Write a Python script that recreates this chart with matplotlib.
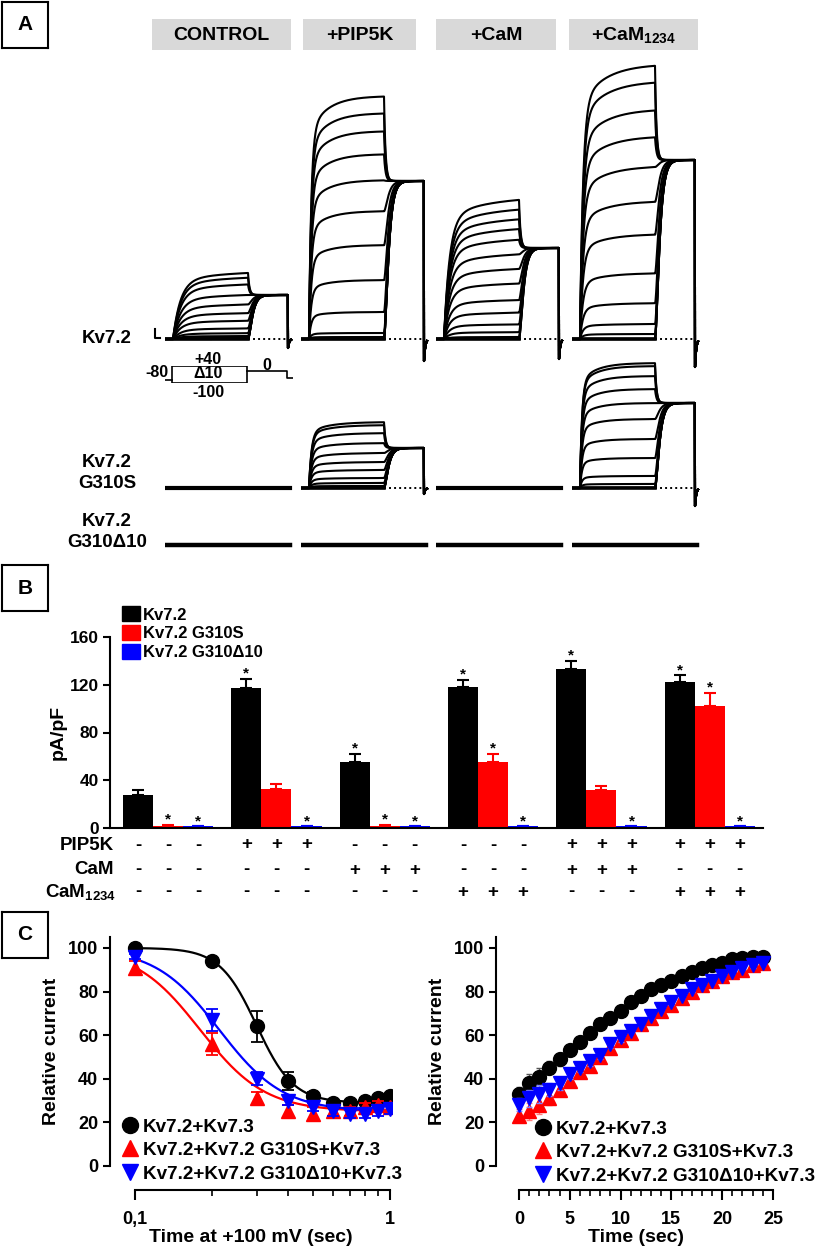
import numpy as np
import matplotlib
matplotlib.use('Agg')
import matplotlib.pyplot as plt
import matplotlib.transforms as mtransforms
from matplotlib.patches import Rectangle, Patch
from matplotlib.lines import Line2D
import matplotlib.ticker as mticker

plt.rcParams['font.family'] = ['Liberation Sans', 'DejaVu Sans']
plt.rcParams['font.weight'] = 'bold'
plt.rcParams['axes.labelweight'] = 'bold'
plt.rcParams['mathtext.fontset'] = 'custom'
plt.rcParams['mathtext.rm'] = 'Liberation Sans:bold'
plt.rcParams['mathtext.it'] = 'Liberation Sans:bold'
plt.rcParams['mathtext.bf'] = 'Liberation Sans:bold'
plt.rcParams['axes.linewidth'] = 1.5

# ---------------- data ----------------
# panel A: steady current at each voltage step (-100..+40 mV, 10 mV steps)
steps_mV = list(range(-100, 50, 10))
cond_labels = ['CONTROL', '+PIP5K', '+CaM', '+CaM$_{1234}$']
amp_kv72_control = [0, 0, 0, 0, 1, 3, 6, 11, 19, 27, 36, 46, 57, 64, 69]
amp_kv72_pip5k = [0, 0, 0, 1, 2, 6, 27, 59, 94, 128, 159, 185, 208, 226, 243]
amp_kv72_cam = [0, 0, 2, 7, 15, 27, 40, 57, 72, 87, 102, 113, 123, 133, 143]
amp_kv72_cam1234 = [0, 0, 0, 0, 5, 15, 36, 66, 105, 138, 173, 203, 230, 258, 275]
amp_g310s_pip5k = [0, 0, 0, 0, 0, 2, 5, 10, 18, 26, 35, 45, 55, 63, 66]
amp_g310s_cam1234 = [0, 0, 0, 0, 0, 4, 12, 30, 49, 69, 85, 99, 112, 122, 125]
tail_kv72 = [44, 158, 91, 179]
tail_g310s = [0, 40, 0, 85]
tau_kv72 = [150, 45, 110, 60]
tau_g310s = [0, 50, 0, 40]
dip_kv72 = [9, 22, 20, 28]
dip_g310s = [0, 6, 0, 18]

# panel B: current density (pA/pF)
groups_pip5k = ['-', '+', '-', '-', '+', '+']
groups_cam = ['-', '-', '+', '-', '+', '-']
groups_cam1234 = ['-', '-', '-', '+', '-', '+']
kv72_mean = [28, 117, 55, 118, 133, 122]
kv72_err = [4, 8, 7, 6, 7, 6]
kv72_sig = [False, True, True, True, True, True]
g310s_mean = [2, 33, 2, 55, 32, 102]
g310s_err = [0.5, 4, 0.5, 7, 3, 11]
g310s_sig = [True, False, True, True, False, True]
g310d10_mean = [1.5, 1.5, 1.5, 1.5, 1.5, 1.5]
g310d10_err = [0, 0, 0, 0, 0, 0]
g310d10_sig = [True, True, True, True, True, True]

# panel C left: relative current vs time at +100 mV
t_pulse = [0.1, 0.2, 0.3, 0.4, 0.5, 0.6, 0.7, 0.8, 0.9, 1.0]
wt_pulse = [100, 94, 64, 39, 32, 29, 29, 30, 31, 32]
wt_pulse_err = [0.5, 1, 7, 4, 2, 1, 1, 1, 1, 1]
g310s_pulse = [91, 56, 31, 25, 24, 25, 25, 27, 28, 27]
g310s_pulse_err = [3, 5, 3, 3, 3, 2, 2, 2, 2, 2]
d10_pulse = [96, 67, 40, 30, 27, 25, 24, 24, 25, 26]
d10_pulse_err = [1, 5, 3, 2, 2, 2, 2, 2, 2, 2]
# fitted curves (bottom, top, t50, slope)
fit_wt = [29, 100, 0.30, 6.0]
fit_g310s = [25, 100, 0.18, 3.4]
fit_d10 = [25, 100, 0.214, 3.46]

# panel C right: recovery time course
t_rec = list(range(25))
wt_rec = [33, 38, 41, 45, 49, 53, 57, 61, 65, 68, 71, 75, 78, 81, 83, 85, 87,
          89, 91, 92, 93, 95, 95.5, 96, 96]
g310s_rec = [23, 25, 28, 31, 35, 39, 43, 46, 50, 54, 58, 61, 65, 68, 71, 74, 77,
             80, 83, 85, 87, 89, 90, 92, 93]
d10_rec = [28, 31, 33, 35, 38, 42, 45, 48, 51, 56, 59, 62, 65, 69, 72, 75, 78,
           81, 83, 85, 87, 89, 91, 92, 93]
rec_err = [3, 4, 4, 3, 3, 2, 2, 2, 2, 2, 2, 1, 1, 1, 1, 1, 1, 1, 1, 1, 1, 1, 1, 1, 1]

legend_c = ['Kv7.2+Kv7.3', 'Kv7.2+Kv7.2 G310S+Kv7.3', 'Kv7.2+Kv7.2 G310\u039410+Kv7.3']

W, H = 823, 1249
fig = plt.figure(figsize=(W / 100, H / 100), dpi=100)


def box(x0, y0, x1, y1):
    return [x0 / W, 1 - y1 / H, (x1 - x0) / W, (y1 - y0) / H]


def fx(x):
    return x / W


def fy(y):
    return 1 - y / H


def panel_letter(x0, y0, letter):
    a = fig.add_axes(box(x0, y0, x0 + 46, y0 + 46))
    a.set_xticks([])
    a.set_yticks([])
    for s in a.spines.values():
        s.set_linewidth(1.5)
    a.text(0.5, 0.5, letter, ha='center', va='center', fontsize=15)


# ---------------- panel A ----------------
panel_letter(2, 2, 'A')
head_x = [(152, 291), (303, 416), (436, 556), (569, 698)]
for (x0, x1), lab in zip(head_x, cond_labels):
    fig.add_artist(Rectangle((fx(x0), fy(50)), fx(x1 - x0), (50 - 19) / H,
                             transform=fig.transFigure, color='#d9d9d9', lw=0))
    fig.text(fx((x0 + x1) / 2), fy(35), lab, ha='center', va='center', fontsize=14)


def sweep(t, amp, tail, tau, dip):
    cur = np.zeros_like(t)
    on = (t >= 0) & (t < 1500)
    ts = t[on]
    cur[on] = amp * (0.85 * (1 - np.exp(-ts / tau)) + 0.15 * (1 - np.exp(-ts / (8 * tau))))
    i_end = amp * (0.85 * (1 - np.exp(-1500 / tau)) + 0.15 * (1 - np.exp(-1500 / (8 * tau))))
    tl = (t >= 1500) & (t < 2300)
    dt = t[tl] - 1500
    if i_end > tail:
        cur[tl] = tail + (i_end - tail) * np.exp(-dt / 30)
    else:
        cur[tl] = i_end + (tail - i_end) * (1 - np.exp(-dt / 70)) ** 2
    off = t >= 2300
    cur[off] = -dip * np.exp(-(t[off] - 2300) / 25)
    return cur


t = np.arange(-160, 2362, 2.0)
step_px = [173, 309, 444, 580]
row_base = [339, 488, 545]
amps_kv72 = [amp_kv72_control, amp_kv72_pip5k, amp_kv72_cam, amp_kv72_cam1234]
amps_g310s = [None, amp_g310s_pip5k, None, amp_g310s_cam1234]


def trace_axes(c, r):
    s = step_px[c]
    b = row_base[r]
    a = fig.add_axes(box(s - 8, b - 290, s + 122.5, b + 40))
    a.set_xlim(-160, 2450)
    a.set_ylim(-40, 290)
    a.axis('off')
    return a


for c in range(4):
    # Kv7.2
    a = trace_axes(c, 0)
    a.plot([-160, 1500], [0, 0], color='k', lw=2.6)
    for amp in amps_kv72[c]:
        a.plot(t, sweep(t, amp, tail_kv72[c], tau_kv72[c], dip_kv72[c]), color='k', lw=1.5)
    a.plot([1500, 2300], [0, 0], color='k', lw=1.4, ls=(0, (1, 1.6)))
    # G310S
    a = trace_axes(c, 1)
    if amps_g310s[c] is None:
        a.plot([-160, 2340], [0, 0], color='k', lw=3)
    else:
        a.plot([-160, 1500], [0, 0], color='k', lw=2.6)
        for amp in amps_g310s[c]:
            a.plot(t, sweep(t, amp, tail_g310s[c], tau_g310s[c], dip_g310s[c]), color='k', lw=1.5)
        a.plot([1500, 2300], [0, 0], color='k', lw=1.4, ls=(0, (1, 1.6)))
    # G310delta10
    a = trace_axes(c, 2)
    a.plot([-160, 2340], [0, 0], color='k', lw=3.2)

fig.text(fx(132), fy(339), 'Kv7.2', ha='right', va='center', fontsize=13.5)
fig.text(fx(107), fy(473), 'Kv7.2\nG310S', ha='center', va='center', fontsize=13.5,
         linespacing=1.25)
fig.text(fx(107), fy(532), 'Kv7.2\nG310\u039410', ha='center', va='center', fontsize=13.5,
         linespacing=1.25)
# scale bar
fig.add_artist(Line2D([fx(155), fx(155), fx(160)], [fy(329), fy(338), fy(338)],
                      transform=fig.transFigure, color='k', lw=1.5))

# voltage protocol
ap = fig.add_axes(box(165, 366, 293, 383))
ap.axis('off')
ap.set_xlim(-150, 2420)
ap.set_ylim(-101, 41)
ap.plot([-150, 0], [-80, -80], color='k', lw=1.2)
ap.add_patch(Rectangle((0, -100), 1500, 140, fill=False, lw=1.2, ec='k'))
ap.plot([1500, 2300, 2300, 2420], [0, 0, -60, -60], color='k', lw=1.2)
fig.text(fx(168), fy(372), '-80', ha='right', va='center', fontsize=11.5)
fig.text(fx(208), fy(359), '+40', ha='center', va='center', fontsize=11.5)
fig.text(fx(208), fy(374), '\u039410', ha='center', va='center', fontsize=11.5)
fig.text(fx(208), fy(393), '-100', ha='center', va='center', fontsize=11.5)
fig.text(fx(267), fy(366), '0', ha='center', va='center', fontsize=11.5)

# ---------------- panel B ----------------
panel_letter(2, 565, 'B')
ax_b = fig.add_axes(box(110, 637, 763, 828))
xg = np.arange(6) * 3.6
series = [(kv72_mean, kv72_err, kv72_sig, 'black', 'Kv7.2'),
          (g310s_mean, g310s_err, g310s_sig, '#ff0000', 'Kv7.2 G310S'),
          (g310d10_mean, g310d10_err, g310d10_sig, '#0000ff', 'Kv7.2 G310\u039410')]
handles = []
for k, (m, e, sig, col, lab) in enumerate(series):
    xs = xg + k
    ax_b.bar(xs, m, width=1.0, color=col, lw=0)
    ax_b.errorbar(xs, m, yerr=[np.zeros(6), e], fmt='none', ecolor=col,
                  elinewidth=1.5, capsize=4, capthick=1.5)
    for x, v, er, s in zip(xs, m, e, sig):
        if s:
            ax_b.text(x, v + er + 1, '*', ha='center', va='baseline', fontsize=11)
    handles.append(Patch(color=col, label=lab))
ax_b.set_xlim(-0.93, 20.77)
ax_b.set_ylim(0, 160)
ax_b.set_yticks([0, 40, 80, 120, 160])
ax_b.set_xticks([])
ax_b.spines['top'].set_visible(False)
ax_b.spines['right'].set_visible(False)
ax_b.tick_params(axis='y', direction='out', length=5, width=1.5, labelsize=12.5, pad=3)
ax_b.set_ylabel('pA/pF', fontsize=14, labelpad=2)
leg = ax_b.legend(handles=handles, loc='upper left', bbox_to_anchor=(fx(114), fy(598)),
                  bbox_transform=fig.transFigure, frameon=False, borderpad=0,
                  handlelength=1.05, handleheight=1.0, handletextpad=0.2,
                  labelspacing=0.15, prop={'weight': 'bold', 'size': 12})

tr = mtransforms.blended_transform_factory(ax_b.transData, fig.transFigure)
for row_y, signs in zip([845, 870, 892], [groups_pip5k, groups_cam, groups_cam1234]):
    for g in range(6):
        for k in range(3):
            ax_b.text(xg[g] + k, fy(row_y), signs[g], transform=tr, ha='center',
                      va='center', fontsize=13.5, clip_on=False)
fig.text(fx(114), fy(845), 'PIP5K', ha='right', va='center', fontsize=13.5)
fig.text(fx(114), fy(870), 'CaM', ha='right', va='center', fontsize=13.5)
fig.text(fx(116), fy(892), 'CaM$_{1234}$', ha='right', va='center', fontsize=13.5)

# ---------------- panel C ----------------
panel_letter(2, 912, 'C')


def style_c(a):
    a.spines['top'].set_visible(False)
    a.spines['right'].set_visible(False)
    a.spines['bottom'].set_position(('outward', 17.3))
    a.set_ylim(0, 105)
    a.set_yticks([0, 20, 40, 60, 80, 100])
    a.tick_params(axis='y', direction='out', length=5, width=1.5, labelsize=13)
    a.tick_params(axis='x', which='major', direction='out', length=7, width=1.5,
                  labelsize=13, pad=8)
    a.tick_params(axis='x', which='minor', direction='out', length=4, width=1.2)
    a.set_ylabel('Relative current', fontsize=14, labelpad=6)


def hill(x, p):
    return p[0] + (p[1] - p[0]) / (1 + (x / p[2]) ** p[3])


ax_l = fig.add_axes(box(110, 937, 392, 1166))
ax_l.set_xscale('log')
ax_l.set_xlim(0.0798, 1.02)
style_c(ax_l)
ax_l.spines['bottom'].set_bounds(0.1, 1)
xf = np.logspace(-1, 0, 200)
for fitp, col in zip([fit_wt, fit_g310s, fit_d10], ['k', '#ff0000', '#0000ff']):
    ax_l.plot(xf, hill(xf, fitp), color=col, lw=1.6)
pts = [(wt_pulse, wt_pulse_err, 'o', 'k'),
       (g310s_pulse, g310s_pulse_err, '^', '#ff0000'),
       (d10_pulse, d10_pulse_err, 'v', '#0000ff')]
lh = []
for (y, e, mk, col), lab in zip(pts, legend_c):
    ax_l.errorbar(t_pulse, y, yerr=e, fmt='none', ecolor=col, elinewidth=1.3,
                  capsize=4, capthick=1.3)
    h, = ax_l.plot(t_pulse, y, mk, color=col, ms=10, ls='none', label=lab)
    lh.append(h)
ax_l.set_xticks([0.1, 1])
ax_l.set_xticklabels(['0,1', '1'])
ax_l.xaxis.set_minor_locator(mticker.FixedLocator([0.2, 0.3, 0.4, 0.5, 0.6, 0.7, 0.8, 0.9]))
ax_l.xaxis.set_minor_formatter(mticker.NullFormatter())
ax_l.set_xlabel('Time at +100 mV (sec)', fontsize=14, labelpad=1)
ax_l.legend(handles=lh, loc='lower left', bbox_to_anchor=(fx(111), fy(1192)),
            bbox_transform=fig.transFigure, frameon=False, borderpad=0,
            handlelength=1.0, handletextpad=0.2, labelspacing=0.33,
            markerscale=1.15, fontsize=13.6)

ax_r = fig.add_axes(box(496, 937, 775, 1166))
ax_r.set_xlim(-2.26, 25.2)
style_c(ax_r)
ax_r.spines['bottom'].set_bounds(0, 25)
ax_r.set_xticks([0, 5, 10, 15, 20, 25])
ax_r.xaxis.set_minor_locator(mticker.FixedLocator(list(range(26))))
pts_r = [(wt_rec, 'o', 'k', '#555555'),
         (g310s_rec, '^', '#ff0000', '#ff8080'),
         (d10_rec, 'v', '#0000ff', '#8080ff')]
rh = []
for (y, mk, col, ecol), lab in zip(pts_r, legend_c):
    ax_r.errorbar(t_rec, y, yerr=rec_err, fmt='none', ecolor=ecol, elinewidth=1,
                  capsize=2.5, capthick=1)
    h, = ax_r.plot(t_rec, y, mk, color=col, ms=10, ls='none', label=lab)
    rh.append(h)
ax_r.set_xlabel('Time (sec)', fontsize=14, labelpad=1)
ax_r.legend(handles=rh, loc='lower left', bbox_to_anchor=(fx(524), fy(1194)),
            bbox_transform=fig.transFigure, frameon=False, borderpad=0,
            handlelength=1.0, handletextpad=0.2, labelspacing=0.33,
            markerscale=1.15, fontsize=13.6)

fig.savefig('out.png', dpi=100)
